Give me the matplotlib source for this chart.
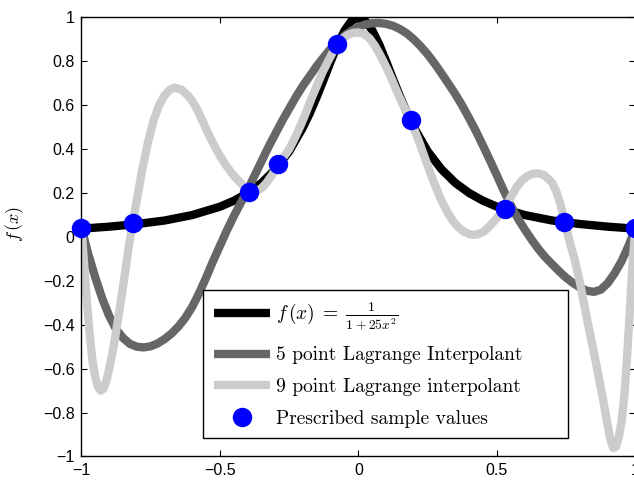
import matplotlib
matplotlib.use("Agg")
import matplotlib.pyplot as plt
from matplotlib.ticker import FuncFormatter

plt.rcParams["mathtext.fontset"] = "cm"
plt.rcParams["font.family"] = ["Liberation Sans", "DejaVu Sans"]

# --- datos ---
# funcion de Runge f(x) = 1/(1+25x^2)
f_x = [-1.0, -0.9, -0.8, -0.7, -0.6, -0.5, -0.45, -0.4, -0.35, -0.3, -0.25,
       -0.2, -0.175, -0.15, -0.125, -0.1, -0.075, -0.05, -0.025, 0.0,
       0.025, 0.05, 0.075, 0.1, 0.125, 0.15, 0.175, 0.2, 0.25, 0.3, 0.35,
       0.4, 0.45, 0.5, 0.6, 0.7, 0.8, 0.9, 1.0]
f_y = [0.038, 0.047, 0.059, 0.075, 0.100, 0.138, 0.165, 0.200, 0.246, 0.308,
       0.390, 0.500, 0.566, 0.640, 0.719, 0.800, 0.877, 0.941, 0.985, 1.000,
       0.985, 0.941, 0.877, 0.800, 0.719, 0.640, 0.566, 0.500, 0.390, 0.308,
       0.246, 0.200, 0.165, 0.138, 0.100, 0.075, 0.059, 0.047, 0.038]

# interpolante de 5 puntos
p5_x = [-1.0, -0.975, -0.95, -0.925, -0.9, -0.875, -0.85, -0.825, -0.8,
        -0.775, -0.75, -0.725, -0.7, -0.675, -0.65, -0.625, -0.6, -0.575,
        -0.55, -0.525, -0.5, -0.475, -0.45, -0.425, -0.4, -0.375, -0.35,
        -0.325, -0.3, -0.275, -0.25, -0.225, -0.2, -0.175, -0.15, -0.125,
        -0.1, -0.075, -0.05, -0.025, 0.0, 0.025, 0.05, 0.075, 0.1, 0.125,
        0.15, 0.175, 0.2, 0.225, 0.25, 0.275, 0.3, 0.325, 0.35, 0.375, 0.4,
        0.425, 0.45, 0.475, 0.5, 0.525, 0.55, 0.575, 0.6, 0.625, 0.65, 0.675,
        0.7, 0.725, 0.75, 0.775, 0.8, 0.825, 0.85, 0.875, 0.9, 0.925, 0.95,
        0.975, 1.0]
p5_y = [0.04, -0.08, -0.185, -0.28, -0.36, -0.42, -0.46, -0.487, -0.50,
        -0.503, -0.498, -0.485, -0.465, -0.44, -0.408, -0.368, -0.318, -0.255,
        -0.185, -0.11, -0.04, 0.03, 0.095, 0.155, 0.215, 0.28, 0.345,
        0.41, 0.47, 0.53, 0.585, 0.64, 0.69, 0.735, 0.78, 0.82,
        0.858, 0.89, 0.918, 0.94, 0.957, 0.968, 0.974, 0.975, 0.971, 0.962,
        0.947, 0.927, 0.90, 0.868, 0.832, 0.79, 0.745, 0.698, 0.65, 0.598,
        0.54, 0.48, 0.415, 0.348, 0.28, 0.21, 0.145, 0.085, 0.035, -0.012,
        -0.055, -0.093, -0.125, -0.157, -0.186, -0.21, -0.23, -0.245, -0.25,
        -0.24, -0.21, -0.165, -0.11, -0.04, 0.04]

# interpolante de 9 puntos
p9_x = [-1.0, -0.99, -0.98, -0.97, -0.96, -0.95, -0.94, -0.93, -0.92, -0.91,
        -0.9, -0.89, -0.88, -0.87, -0.86, -0.85, -0.84, -0.83, -0.815, -0.8,
        -0.78, -0.76, -0.74, -0.72, -0.7, -0.68, -0.665, -0.64, -0.62, -0.6,
        -0.58, -0.56, -0.54, -0.52, -0.5, -0.48, -0.46, -0.44, -0.42, -0.394,
        -0.37, -0.35, -0.33, -0.31, -0.29, -0.27, -0.25, -0.23, -0.21, -0.19,
        -0.17, -0.15, -0.13, -0.11, -0.09, -0.079, -0.06, -0.04, -0.02, 0.0,
        0.02, 0.04, 0.06, 0.08, 0.1, 0.12, 0.14, 0.16, 0.188, 0.2, 0.22, 0.24,
        0.26, 0.28, 0.3, 0.32, 0.34, 0.36, 0.38, 0.4, 0.414, 0.43, 0.45, 0.47,
        0.49, 0.51, 0.529, 0.55, 0.57, 0.59, 0.61, 0.63, 0.65, 0.67, 0.69,
        0.70, 0.715, 0.73, 0.743, 0.76, 0.78, 0.8, 0.82, 0.84, 0.86, 0.88,
        0.9, 0.91, 0.92, 0.93, 0.94, 0.95, 0.96, 0.97, 0.98, 0.99, 1.0]
p9_y = [0.04, -0.13, -0.30, -0.45, -0.565, -0.64, -0.685, -0.70, -0.69, -0.655,
        -0.60, -0.54, -0.47, -0.39, -0.31, -0.225, -0.14, -0.05, 0.063, 0.17,
        0.31, 0.43, 0.53, 0.60, 0.645, 0.672, 0.68, 0.672, 0.65, 0.62,
        0.575, 0.52, 0.465, 0.415, 0.37, 0.33, 0.295, 0.265, 0.24, 0.212,
        0.208, 0.222, 0.25, 0.287, 0.332, 0.365, 0.40, 0.45, 0.505, 0.565,
        0.63, 0.69, 0.75, 0.80, 0.848, 0.872, 0.90, 0.92, 0.93, 0.932,
        0.925, 0.905, 0.87, 0.825, 0.775, 0.72, 0.66, 0.605, 0.534, 0.495,
        0.43, 0.36, 0.29, 0.225, 0.165, 0.115, 0.075, 0.045, 0.025, 0.013,
        0.01, 0.012, 0.022, 0.045, 0.072, 0.102, 0.135, 0.182, 0.225, 0.258,
        0.278, 0.288, 0.29, 0.282, 0.26, 0.245, 0.205, 0.145, 0.075, -0.01,
        -0.10, -0.21, -0.34, -0.465, -0.59, -0.72, -0.86, -0.925, -0.962,
        -0.955, -0.91, -0.84, -0.72, -0.54, -0.33, -0.11, 0.04]

# valores muestreados
s_x = [-1.0, -0.815, -0.394, -0.29, -0.079, 0.188, 0.529, 0.743, 1.0]
s_y = [0.041, 0.063, 0.207, 0.332, 0.877, 0.534, 0.128, 0.070, 0.040]

fig = plt.figure(figsize=(6.34, 4.90), dpi=100)
fig.patch.set_facecolor("white")
ax = fig.add_axes([0.1285, 0.0684, 0.8738, 0.8959])

estilo = dict(lw=6, solid_joinstyle="round", solid_capstyle="butt")
ax.plot(f_x, f_y, color="black", label=r"$f\,(x)\;=\;\frac{1}{1+25x^2}$",
        **estilo)
ax.plot(p5_x, p5_y, color="#666666", label="5 point Lagrange Interpolant",
        **estilo)
ax.plot(p9_x, p9_y, color="#cccccc", label="9 point Lagrange interpolant",
        **estilo)
ax.plot(s_x, s_y, "o", color="#0000ff", mec="#0000ff", ms=13,
        clip_on=False, zorder=5, label="Prescribed sample values")

ax.set_xlim(-1, 1)
ax.set_ylim(-1, 1)
ax.set_xticks([-1, -0.5, 0, 0.5, 1])
ax.set_yticks([-1, -0.8, -0.6, -0.4, -0.2, 0, 0.2, 0.4, 0.6, 0.8, 1])
fmt = FuncFormatter(lambda v, p: ("%g" % round(v, 2)).replace("-", "\u2212"))
ax.xaxis.set_major_formatter(fmt)
ax.yaxis.set_major_formatter(fmt)
ax.tick_params(direction="in", top=True, right=True, length=4, width=0.8,
               labelsize=11.5, pad=5)
for s in ax.spines.values():
    s.set_linewidth(1.0)
    s.set_color("black")

ax.set_ylabel(r"$f\,(x)$", fontsize=13)
ax.yaxis.set_label_coords(-0.1, 0.53)
ax.set_xlabel(r"$x$", fontsize=13)
ax.xaxis.set_label_coords(0.5, -0.067)

leg = ax.legend(loc="upper left", bbox_to_anchor=(0.3202, 0.1041, 0.5757, 0.3041),
                bbox_transform=fig.transFigure, mode="expand", borderaxespad=0,
                prop={"family": "cmr10", "size": 14}, handlelength=2.9,
                handletextpad=0.3, borderpad=0.55, labelspacing=0.7,
                numpoints=1, fancybox=False, framealpha=1, edgecolor="black")
leg.get_frame().set_linewidth(1.0)

plt.savefig("out.png", dpi=100, facecolor=fig.get_facecolor())
